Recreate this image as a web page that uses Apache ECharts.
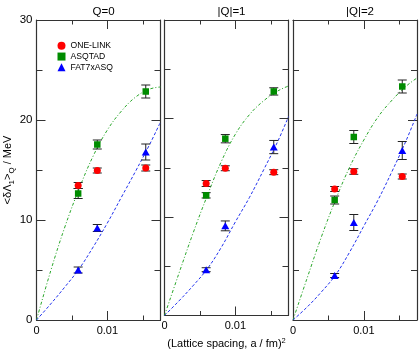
<!DOCTYPE html>
<html><head><meta charset="utf-8">
<script src="https://cdn.jsdelivr.net/npm/echarts@6/dist/echarts.min.js"></script>
<style>html,body{margin:0;padding:0;background:#fff}#c{width:419px;height:354px}</style>
</head><body><div id="c"></div>
<script>
// ---- data ----
const panelTitles = ['Q=0', '|Q|=1', '|Q|=2'];
const seriesNames = ['ONE-LINK', 'ASQTAD', 'FAT7xASQ'];
const latticeX = [0.00588, 0.00858, 0.01542];
const xTickLabels = ['0', '0.01'];
const yTickLabels = ['0', '10', '20', '30'];

const oneLinkQ0 = [13.45, 14.95, 15.2];
const oneLinkQ0Err = [0.3, 0.25, 0.3];
const asqtadQ0 = [12.65, 17.55, 22.85];
const asqtadQ0Err = [0.5, 0.45, 0.65];
const fat7Q0 = [5.0, 9.2, 16.8];
const fat7Q0Err = [0.3, 0.35, 0.8];

const oneLinkQ1 = [13.4, 14.95, 14.55];
const oneLinkQ1Err = [0.3, 0.25, 0.25];
const asqtadQ1 = [12.2, 17.95, 22.75];
const asqtadQ1Err = [0.27, 0.42, 0.37];
const fat7Q1 = [4.65, 9.1, 17.1];
const fat7Q1Err = [0.2, 0.5, 0.67];

const oneLinkQ2 = [13.1, 14.85, 14.35];
const oneLinkQ2Err = [0.25, 0.28, 0.25];
const asqtadQ2 = [12.0, 18.3, 23.35];
const asqtadQ2Err = [0.4, 0.65, 0.65];
const fat7Q2 = [4.45, 9.75, 16.95];
const fat7Q2Err = [0.2, 0.8, 0.9];

// fit curves
const curveX = [0, 0.002, 0.004, 0.006, 0.008, 0.010, 0.012, 0.014, 0.016, 0.0175];
const asqtadFitQ0 = [0, 4.9, 9.3, 13.1, 16.4, 19.0, 20.9, 22.3, 23.1, 23.3];
const asqtadFitQ1 = [0, 4.2, 8.3, 12.1, 15.6, 18.4, 20.4, 21.8, 22.8, 23.3];
const asqtadFitQ2 = [0, 4.2, 8.3, 12.0, 15.3, 18.0, 20.3, 22.0, 23.4, 24.2];
const fat7FitQ0 = [0, 1.6, 3.3, 5.1, 7.3, 9.7, 12.3, 14.9, 17.6, 19.8];
const fat7FitQ1 = [0, 1.45, 3.0, 4.7, 6.9, 9.5, 12.0, 14.8, 17.7, 20.2];
const fat7FitQ2 = [0, 1.3, 2.8, 4.5, 6.8, 9.4, 12.0, 14.9, 18.0, 20.6];

// ---- build ----
const panelData = [
  {pts: [[oneLinkQ0, oneLinkQ0Err], [asqtadQ0, asqtadQ0Err], [fat7Q0, fat7Q0Err]], fitG: asqtadFitQ0, fitB: fat7FitQ0},
  {pts: [[oneLinkQ1, oneLinkQ1Err], [asqtadQ1, asqtadQ1Err], [fat7Q1, fat7Q1Err]], fitG: asqtadFitQ1, fitB: fat7FitQ1},
  {pts: [[oneLinkQ2, oneLinkQ2Err], [asqtadQ2, asqtadQ2Err], [fat7Q2, fat7Q2Err]], fitG: asqtadFitQ2, fitB: fat7FitQ2}
];
const colors = ['#ff0000', '#008c00', '#0000ff'];
const symbols = ['circle', 'rect', 'triangle'];
const sizes = [7, 6.5, [8, 7]];
const gridLefts = [36.5, 164.5, 293];
const axisCol = '#333';
const font = 'Liberation Sans, Arial, sans-serif';

const grids = [], xAxes = [], yAxes = [], series = [], titles = [];
gridLefts.forEach((l, i) => {
  grids.push({left: l, top: 20, width: 124, height: 300});
  titles.push({text: panelTitles[i], left: l + 62, top: 1, textAlign: 'center',
    textStyle: {fontSize: 11.5, fontWeight: 'normal', color: '#000', fontFamily: font}});
  const common = {gridIndex: i, type: 'value', min: 0, max: 0.0175, interval: 0.01,
    splitLine: {show: false},
    axisLine: {show: true, onZero: false, lineStyle: {color: axisCol, width: 1.2}},
    axisTick: {inside: true, length: 9, lineStyle: {color: axisCol, width: 1}},
    minorTick: {show: true, splitNumber: 2, length: 4.5, lineStyle: {color: axisCol, width: 1}}};
  const xb = Object.assign({}, common, {position: 'bottom',
    axisLabel: {showMaxLabel: false, margin: 5, fontSize: 11, color: '#000', fontFamily: font,
      formatter: v => v === 0 ? xTickLabels[0] : (Math.abs(v - 0.01) < 1e-9 ? xTickLabels[1] : '')}});
  if (i === 1) {
    Object.assign(xb, {name: '{n|(Lattice spacing, a / fm)}{s|2}', nameLocation: 'middle', nameGap: 21,
      nameTextStyle: {rich: {
        n: {fontSize: 11, fontFamily: font, color: '#000', lineHeight: 14},
        s: {fontSize: 7.5, fontFamily: font, color: '#000', lineHeight: 9, verticalAlign: 'top'}}}});
  }
  xAxes.push(xb);
  xAxes.push(Object.assign({}, common, {position: 'top', axisLabel: {show: false}}));
  const ycommon = {gridIndex: i, type: 'value', min: 0, max: 30, interval: 10,
    splitLine: {show: false},
    axisLine: {show: true, onZero: false, lineStyle: {color: axisCol, width: 1.2}},
    axisTick: {inside: true, length: 9, lineStyle: {color: axisCol, width: 1}},
    minorTick: {show: true, splitNumber: 2, length: 6, lineStyle: {color: axisCol, width: 1}}};
  const yl = Object.assign({}, ycommon, {position: 'left',
    axisLabel: {show: i === 0, margin: 4, fontSize: 11.5, color: '#000', fontFamily: font,
      formatter: v => yTickLabels[Math.round(v / 10)] || ''}});
  if (i === 0) {
    Object.assign(yl, {name: '{n|<δΛ}{s|1}{n|>}{s|Q}{n| / MeV}', nameLocation: 'middle', nameRotate: 90, nameGap: 17,
      nameTextStyle: {rich: {
        n: {fontSize: 11, fontFamily: font, color: '#000', lineHeight: 16},
        s: {fontSize: 8, fontFamily: font, color: '#000', lineHeight: 9, verticalAlign: 'bottom'}}}});
  }
  yAxes.push(yl);
  yAxes.push(Object.assign({}, ycommon, {position: 'right', axisLabel: {show: false}}));

  const P = panelData[i];
  // fit curves
  series.push({type: 'line', name: 'fitG' + i, xAxisIndex: 2 * i, yAxisIndex: 2 * i,
    data: curveX.map((x, k) => [x, P.fitG[k]]), smooth: 0.4, showSymbol: false, symbol: 'none',
    lineStyle: {color: '#2aa62a', width: 1, type: [3, 2, 1, 2]}, z: 1, silent: true});
  series.push({type: 'line', name: 'fitB' + i, xAxisIndex: 2 * i, yAxisIndex: 2 * i,
    data: curveX.map((x, k) => [x, P.fitB[k]]), smooth: 0.4, showSymbol: false, symbol: 'none',
    lineStyle: {color: '#2233ee', width: 1, type: [3, 2]}, z: 1, silent: true});
  // error bars + points
  P.pts.forEach((pe, s) => {
    const [ys, es] = pe;
    series.push({type: 'custom', name: 'err' + i + s, xAxisIndex: 2 * i, yAxisIndex: 2 * i, z: 2,
      encode: {x: 0, y: [1, 2]},
      data: latticeX.map((x, k) => [x, ys[k] - es[k], ys[k] + es[k]]),
      renderItem: (params, api) => {
        const x = api.value(0);
        const a = api.coord([x, api.value(2)]), b = api.coord([x, api.value(1)]);
        const w = 4.5, st = {stroke: '#222', lineWidth: 1};
        return {type: 'group', children: [
          {type: 'line', shape: {x1: a[0], y1: a[1], x2: b[0], y2: b[1]}, style: st},
          {type: 'line', shape: {x1: a[0] - w, y1: a[1], x2: a[0] + w, y2: a[1]}, style: st},
          {type: 'line', shape: {x1: b[0] - w, y1: b[1], x2: b[0] + w, y2: b[1]}, style: st}]};
      }});
    series.push({type: 'scatter', name: seriesNames[s], xAxisIndex: 2 * i, yAxisIndex: 2 * i, z: 3,
      symbol: symbols[s], symbolSize: sizes[s], itemStyle: {color: colors[s], opacity: 1},
      data: latticeX.map((x, k) => [x, ys[k]])});
  });
});

const chart = echarts.init(document.getElementById('c'), null, {renderer: 'canvas'});
chart.setOption({
  animation: false,
  backgroundColor: '#fff',
  title: titles,
  legend: {data: seriesNames, orient: 'vertical', left: 52.5, top: 35.5, itemWidth: 8, itemHeight: 8, itemGap: 0,
    textStyle: {fontSize: 8.6, fontFamily: font, color: '#000', lineHeight: 10.7}},
  grid: grids, xAxis: xAxes, yAxis: yAxes, series: series
});
</script></body></html>
